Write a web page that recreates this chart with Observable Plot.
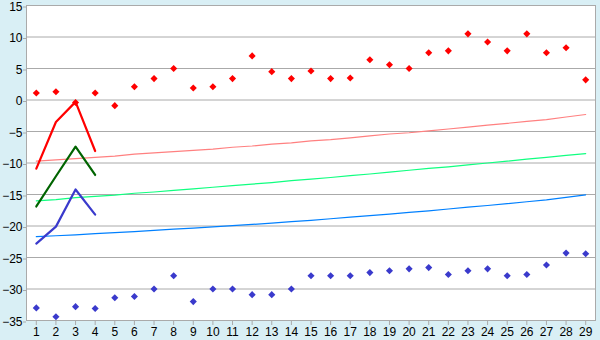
<!DOCTYPE html>
<html><head><meta charset="utf-8">
<script src="https://cdn.jsdelivr.net/npm/d3@7"></script>
<script src="https://cdn.jsdelivr.net/npm/@observablehq/plot@0.6"></script>
<style>html,body{margin:0;padding:0;background:#d9eff5;}</style>
</head><body><div id="chart"></div>
<script>
const xs = d3.range(1, 30);
const xTicks = d3.range(1, 30);
const yTicks = [-35, -30, -25, -20, -15, -10, -5, 0, 5, 10, 15];

const redPoints = [1.1, 1.3, -0.4, 1.1, -0.9, 2.1, 3.4, 5.0, 1.9, 2.1, 3.4, 7.0, 4.5, 3.4, 4.6, 3.4, 3.5, 6.4, 5.6, 5.0, 7.5, 7.8, 10.5, 9.2, 7.8, 10.5, 7.5, 8.3, 3.2];
const bluePoints = [-33.0, -34.4, -32.8, -33.1, -31.4, -31.2, -30.0, -27.9, -32.0, -30.0, -30.0, -30.9, -30.9, -30.0, -27.9, -27.9, -27.9, -27.4, -27.1, -26.8, -26.6, -27.7, -27.1, -26.8, -27.9, -27.7, -26.2, -24.3, -24.4];

const shortX = [1, 2, 3, 4];
const redShort = [-10.9, -3.5, -0.3, -8.1];
const greenShort = [-16.9, -12.1, -7.4, -11.9];
const blueShort = [-22.8, -20.1, -14.2, -18.2];

const redThin = [-9.7, -9.5, -9.3, -9.1, -8.9, -8.6, -8.4, -8.2, -8.0, -7.8, -7.5, -7.3, -7.0, -6.8, -6.5, -6.3, -6.0, -5.7, -5.4, -5.2, -4.9, -4.6, -4.3, -4.0, -3.7, -3.4, -3.1, -2.7, -2.3];
const greenThin = [-16.0, -15.8, -15.5, -15.3, -15.1, -14.8, -14.6, -14.35, -14.1, -13.85, -13.6, -13.35, -13.1, -12.8, -12.55, -12.3, -12.0, -11.75, -11.45, -11.15, -10.85, -10.6, -10.3, -10.0, -9.7, -9.4, -9.1, -8.8, -8.5];
const blueThin = [-21.7, -21.55, -21.4, -21.2, -21.05, -20.9, -20.7, -20.5, -20.35, -20.15, -19.95, -19.75, -19.55, -19.3, -19.1, -18.85, -18.6, -18.35, -18.1, -17.85, -17.6, -17.3, -17.0, -16.75, -16.45, -16.15, -15.85, -15.45, -15.05];

const plot = Plot.plot({
  width: 600, height: 340,
  marginLeft: 26, marginRight: 5, marginTop: 5, marginBottom: 20,
  style: {background: "#d9eff5", fontFamily: "Liberation Sans", fontSize: "12px", color: "black", overflow: "visible"},
  x: {domain: [0.5, 29.5], label: null},
  y: {domain: [-35, 15], label: null},
  marks: [
    Plot.frame({fill: "white", stroke: null}),
    Plot.gridY(yTicks, {stroke: "#aaaaaa", strokeOpacity: 1}),
    Plot.axisY(yTicks, {tickSize: 3, stroke: "#aaaaaa", tickPadding: 1, fill: "black", label: null, dy: 1.5}),
    Plot.axisX(xTicks, {tickSize: 5, stroke: "#aaaaaa", tickPadding: 2, fill: "black", label: null}),
    Plot.frame({stroke: "#aaaaaa"}),
    Plot.line(xs, {x: (d, i) => xs[i], y: (d, i) => redThin[i], stroke: "#ff8080", strokeWidth: 1.2}),
    Plot.line(xs, {x: (d, i) => xs[i], y: (d, i) => greenThin[i], stroke: "#10ff80", strokeWidth: 1.2}),
    Plot.line(xs, {x: (d, i) => xs[i], y: (d, i) => blueThin[i], stroke: "#0080ff", strokeWidth: 1.2}),
    Plot.line(shortX, {x: (d, i) => shortX[i], y: (d, i) => redShort[i], stroke: "#ff0000", strokeWidth: 2.2}),
    Plot.line(shortX, {x: (d, i) => shortX[i], y: (d, i) => greenShort[i], stroke: "#006400", strokeWidth: 2.2}),
    Plot.line(shortX, {x: (d, i) => shortX[i], y: (d, i) => blueShort[i], stroke: "#3a3acc", strokeWidth: 2.2}),
    Plot.dot(xs, {x: (d, i) => xs[i], y: (d, i) => redPoints[i], symbol: "diamond2", r: 3.2, fill: "#ff0000", stroke: null}),
    Plot.dot(xs, {x: (d, i) => xs[i], y: (d, i) => bluePoints[i], symbol: "diamond2", r: 3.2, fill: "#3a3acc", stroke: null})
  ]
});
document.getElementById("chart").appendChild(plot);
</script>
</body></html>
